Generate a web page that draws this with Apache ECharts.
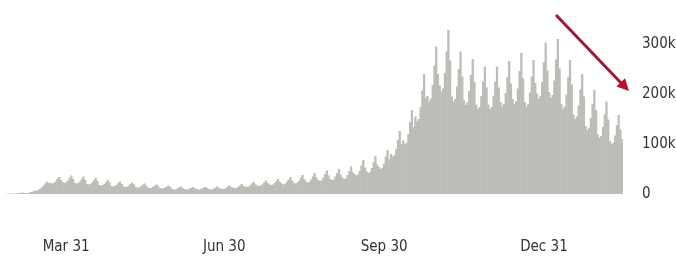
<!DOCTYPE html>
<html>
<head>
<meta charset="utf-8">
<script src="https://cdn.jsdelivr.net/npm/echarts@6/dist/echarts.min.js"></script>
<style>
  html, body { margin: 0; padding: 0; background: #fff; }
  #main { width: 676px; height: 267px; }
</style>
</head>
<body>
<div id="main"></div>
<script>
// daily new cases, thousands, one value per day from firstDay
var firstDay = '2020-02-23';
var cases = [
    0, 0, 0, 0.5, 1, 1, 1,
    1, 1, 1, 2, 2, 3, 2,
    2, 2, 3, 4, 5, 7, 6,
    8, 10, 13, 17, 21, 25, 22,
    22, 21, 22, 25, 30, 34, 28,
    24, 22, 23, 27, 32, 37, 30,
    22, 21, 22, 25, 30, 35, 28,
    20, 19, 20, 23, 27, 32, 26,
    18, 17, 18, 20, 24, 28, 23,
    16, 15, 16, 18, 22, 25, 20,
    15, 14, 14, 17, 20, 23, 19,
    14, 13, 13, 15, 18, 21, 17,
    13, 12, 12, 14, 17, 19, 16,
    12, 11, 11, 13, 15, 17, 14,
    10, 9, 9, 11, 13, 15, 12,
    10, 9, 9, 11, 12, 14, 12,
    10, 9, 9, 11, 12, 14, 12,
    10, 9, 9, 11, 13, 15, 12,
    11, 10, 10, 12, 15, 17, 14,
    13, 12, 12, 14, 17, 20, 16,
    15, 14, 15, 17, 21, 24, 19,
    17, 16, 17, 19, 23, 27, 22,
    19, 18, 19, 22, 26, 30, 24,
    21, 19, 20, 24, 29, 34, 27,
    23, 21, 22, 26, 32, 38, 30,
    25, 23, 24, 29, 35, 42, 33,
    28, 26, 27, 32, 40, 47, 37,
    30, 28, 29, 35, 42, 50, 39,
    33, 30, 31, 38, 46, 55, 43,
    40, 37, 39, 46, 57, 68, 53,
    45, 42, 44, 52, 64, 76, 59,
    54, 50, 52, 61, 75, 88, 69,
    80, 75, 78, 90, 108, 126, 100,
    107, 100, 103, 120, 144, 168, 134,
    155, 145, 150, 174, 207, 240, 193,
    196, 185, 191, 218, 257, 295, 240,
    217, 205, 211, 242, 285, 328, 267,
    195, 185, 190, 215, 250, 285, 235,
    187, 178, 183, 206, 238, 270, 224,
    179, 170, 174, 196, 225, 255, 213,
    179, 170, 174, 196, 225, 255, 213,
    184, 175, 180, 202, 234, 266, 221,
    190, 180, 185, 211, 246, 282, 231,
    184, 175, 180, 203, 235, 268, 222,
    201, 190, 196, 224, 263, 303, 247,
    204, 192, 198, 227, 269, 310, 251,
    180, 170, 175, 199, 234, 268, 219,
    159, 150, 155, 177, 209, 240, 195,
    136, 128, 132, 152, 180, 208, 168,
    119, 112, 116, 134, 159, 185, 149,
    106, 100, 103, 117, 138, 158, 129,
    110
];
var tickDates = ['2020-03-31', '2020-06-30', '2020-09-30', '2020-12-31'];
var tickLabels = ['Mar 31', 'Jun 30', 'Sep 30', 'Dec 31'];
var yTicks = [0, 100, 200, 300];

var days = [];
var t0 = Date.parse(firstDay + 'T00:00:00Z');
for (var i = 0; i < cases.length; i++) {
    days.push(new Date(t0 + i * 86400000).toISOString().slice(0, 10));
}

var labelFont = "'Liberation Sans Narrow', 'DejaVu Sans Condensed', 'Roboto', sans-serif";

var myChart = echarts.init(document.getElementById('main'));
var option = {
    animation: false,
    grid: {
        left: 1,
        width: 622,
        top: 19,
        bottom: 73,
        containLabel: false,
        outerBoundsMode: 'none'
    },
    xAxis: {
        type: 'category',
        data: days,
        axisLine: { show: false },
        axisTick: { show: false },
        splitLine: { show: false },
        axisLabel: {
            margin: 46,
            fontSize: 15,
            fontFamily: labelFont,
            color: '#333',
            interval: function (idx, value) {
                return tickDates.indexOf(value) >= 0;
            },
            formatter: function (value) {
                var k = tickDates.indexOf(value);
                return k >= 0 ? tickLabels[k] : '';
            }
        }
    },
    yAxis: {
        type: 'value',
        position: 'right',
        min: 0,
        max: 350,
        interval: 100,
        axisLine: { show: false },
        axisTick: { show: false },
        splitLine: { show: false },
        axisLabel: {
            showMaxLabel: false,
            margin: 19,
            align: 'left',
            fontSize: 15,
            fontFamily: labelFont,
            color: '#333',
            formatter: function (v) {
                if (yTicks.indexOf(v) < 0) return '';
                return v === 0 ? '0' : v + 'k';
            }
        }
    },
    series: [{
        type: 'bar',
        data: cases,
        barWidth: 2.3,
        itemStyle: { color: '#bdbdb8' },
        silent: true
    }],
    // red trend arrow
    graphic: [{
        type: 'line',
        shape: { x1: 556, y1: 15, x2: 622, y2: 84 },
        style: { stroke: '#9b1b30', lineWidth: 3 },
        silent: true
    }, {
        type: 'polygon',
        shape: { points: [[629, 91], [616.4, 86.5], [625, 78.2]] },
        style: { fill: '#b5142b' },
        silent: true
    }]
};
myChart.setOption(option);
</script>
</body>
</html>
